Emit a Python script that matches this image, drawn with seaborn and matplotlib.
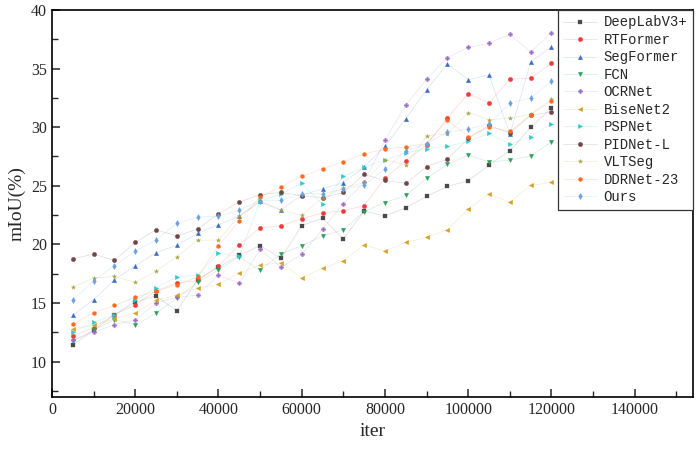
import matplotlib
matplotlib.use('Agg')
import matplotlib.pyplot as plt
from matplotlib.colors import to_rgba
from matplotlib.ticker import MultipleLocator
import numpy as np
import pandas as pd
import seaborn as sns

# iterations (x axis)
iters = list(range(5000, 120001, 5000))

# mIoU per model
deeplab = [11.42, 12.67, 14.0, 15.06, 15.63, 14.32, 17.0, 18.07, 19.06, 19.91, 18.81, 21.6,
           22.25, 20.46, 22.85, 22.42, 23.13, 24.1, 24.95, 25.43, 26.77, 27.99, 29.98, 31.65]
rtformer = [12.16, 12.9, 14.0, 14.83, 16.05, 16.71, 16.93, 18.16, 19.97, 21.42, 21.59, 22.19,
            22.7, 22.87, 23.3, 25.66, 27.14, 28.5, 30.8, 32.85, 32.07, 34.1, 34.18, 35.43]
segformer = [13.98, 15.29, 16.99, 18.18, 19.29, 19.94, 20.94, 21.68, 22.4, 23.7, 22.96, 24.2,
             24.75, 25.27, 26.6, 28.38, 30.72, 33.19, 35.41, 34.04, 34.46, 29.41, 35.55, 36.85]
fcn = [11.73, 12.7, 13.6, 13.15, 14.12, 15.43, 16.76, 17.84, 18.95, 17.8, 19.21, 19.89,
       20.71, 21.25, 22.8, 23.57, 24.18, 25.63, 26.82, 27.63, 27.02, 27.19, 27.53, 28.76]
ocrnet = [11.85, 12.53, 13.15, 13.58, 15.0, 15.5, 15.68, 17.39, 16.68, 19.6, 18.04, 19.18,
          21.28, 23.49, 25.3, 28.89, 31.88, 34.1, 35.92, 36.8, 37.16, 37.92, 36.4, 38.05]
bisenet2 = [12.79, 13.15, 13.64, 14.15, 15.23, 15.69, 16.28, 16.59, 17.56, 18.24, 18.44, 17.16,
            17.96, 18.61, 19.97, 19.43, 20.17, 20.62, 21.25, 23.03, 24.3, 23.61, 25.03, 25.29]
pspnet = [12.56, 13.35, 14.0, 15.23, 16.31, 17.25, 17.36, 19.26, 18.98, 23.7, 24.3, 25.21,
          23.41, 25.83, 26.6, 27.2, 27.8, 28.17, 28.36, 28.78, 29.47, 28.54, 29.2, 30.29]
pidnet = [18.76, 19.18, 18.64, 20.17, 21.25, 20.71, 21.31, 22.62, 23.61, 24.24, 24.43, 24.15,
          23.98, 24.43, 25.97, 25.46, 25.2, 26.64, 27.27, 29.04, 30.15, 29.5, 31.0, 31.31]
vltseg = [16.37, 17.13, 17.27, 16.76, 17.73, 18.95, 20.37, 20.37, 22.45, 23.6, 22.9, 22.5,
          24.0, 24.84, 25.26, 27.23, 26.77, 29.27, 29.42, 31.24, 30.63, 30.77, 31.1, 32.39]
ddrnet = [13.18, 14.18, 14.8, 15.51, 16.0, 16.56, 17.22, 19.89, 22.02, 24.07, 24.9, 25.83,
          26.45, 27.05, 27.72, 28.13, 28.33, 28.6, 30.6, 29.2, 30.0, 29.64, 31.06, 32.22]
ours = [15.26, 16.9, 18.2, 19.43, 20.37, 21.82, 22.33, 22.42, 22.9, 23.73, 23.75, 24.32,
        24.32, 24.72, 25.06, 26.45, 27.95, 28.58, 29.6, 29.83, 30.29, 32.07, 32.48, 33.92]

models = ['DeepLabV3+', 'RTFormer', 'SegFormer', 'FCN', 'OCRNet', 'BiseNet2',
          'PSPNet', 'PIDNet-L', 'VLTSeg', 'DDRNet-23', 'Ours']
series = [deeplab, rtformer, segformer, fcn, ocrnet, bisenet2,
          pspnet, pidnet, vltseg, ddrnet, ours]
colors = ['#4a4a4a', '#f23a3a', '#3a6cc4', '#2ca05a', '#9b6cc8', '#d6a025',
          '#2ccaca', '#6e4848', '#a4a23e', '#ff6a1e', '#6aa0e0']
marker_list = ['s', 'o', '^', 'v', 'P', '<', '>', 'o', '*', 'h', 'd']

df = pd.DataFrame({
    'iter': iters * len(models),
    'mIoU': [v for s in series for v in s],
    'model': [m for m in models for _ in iters],
})

sns.set_style('ticks')
plt.rcParams['font.family'] = ['Liberation Serif', 'DejaVu Serif']

fig = plt.figure(figsize=(6.96, 4.49), dpi=100)
ax = fig.add_axes([0.0747, 0.116, 0.9210, 0.862])

sns.lineplot(data=df, x='iter', y='mIoU', hue='model', style='model',
             hue_order=models, style_order=models,
             palette=dict(zip(models, colors)),
             markers=dict(zip(models, marker_list)), dashes=False,
             linewidth=0.5, markersize=3.2, markeredgewidth=0.2,
             legend=False, ax=ax)

# faint lines, solid markers
for line, c in zip(ax.lines, colors):
    line.set_markerfacecolor(c)
    line.set_markeredgecolor(c)
    line.set_color(to_rgba(c, 0.2))

ax.set_xlim(0, 154000)
ax.set_ylim(7, 40)
ax.xaxis.set_major_locator(MultipleLocator(20000))
ax.xaxis.set_minor_locator(MultipleLocator(10000))
ax.yaxis.set_major_locator(MultipleLocator(5))
ax.yaxis.set_minor_locator(MultipleLocator(2.5))
ax.tick_params(which='major', direction='in', length=6, width=1.1, labelsize=11.5)
ax.tick_params(which='minor', direction='in', length=4, width=1.0)
for sp in ax.spines.values():
    sp.set_linewidth(1.2)
    sp.set_color('black')

ax.set_xlabel('iter', fontsize=14)
ax.set_ylabel('mIoU(%)', fontsize=14)

leg = ax.legend(ax.lines, models, loc='upper right', borderaxespad=0,
                prop={'family': ['Liberation Mono'], 'size': 10},
                labelspacing=0.25, handlelength=2.4, handletextpad=0.5,
                fancybox=False, framealpha=1, edgecolor='#333333')
leg.get_frame().set_linewidth(0.9)

fig.savefig('out.png', dpi=100)
